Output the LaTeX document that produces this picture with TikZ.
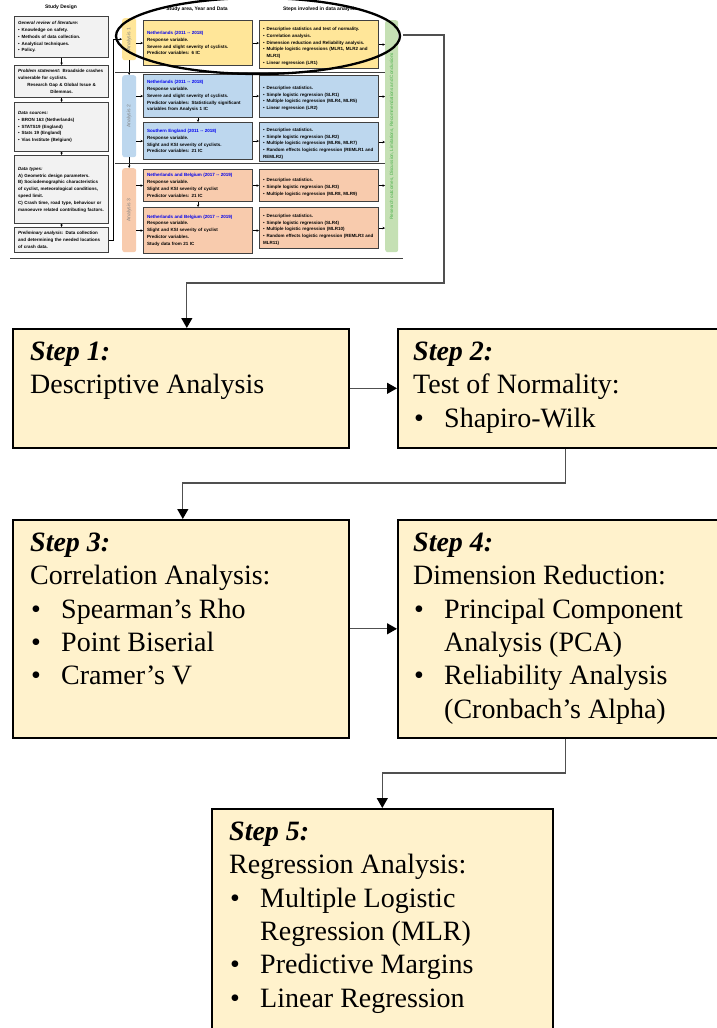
\documentclass[tikz,border=0pt]{standalone}
\usepackage{fontspec}
\setmainfont{Liberation Serif}
\newfontfamily\thumbfont{Liberation Sans}
\usetikzlibrary{arrows.meta}
\definecolor{stepfill}{HTML}{FFF2CC}
\definecolor{connc}{HTML}{505050}
\definecolor{ylw}{HTML}{FFE699}
\definecolor{blu}{HTML}{BDD7EE}
\definecolor{org}{HTML}{F8CBAD}
\definecolor{grn}{HTML}{C5E0B4}
\definecolor{gry}{HTML}{F2F2F2}
\definecolor{bdr}{HTML}{404040}
\definecolor{ttl}{HTML}{0000EE}
\definecolor{labc}{HTML}{808080}
\newcommand\tfont{\thumbfont\bfseries\fontsize{4.5}{6.8}\selectfont}
\newcommand\stepbullet[1]{\makebox[31pt][l]{\hspace{1pt}•}#1}
\newcommand\thumbitem[1]{\par\hangindent=3.5pt\hangafter=1\noindent\makebox[3.5pt][l]{•}#1}
\newcommand\ttitle[1]{{\color{ttl}#1}}
\begin{document}
\begin{tikzpicture}[x=1pt,y=-1pt,
  stepbox/.style={draw=black,line width=1.6pt,fill=stepfill,anchor=north west,inner sep=0pt},
  steptext/.style={anchor=north west,inner sep=0pt,align=left,font=\fontsize{28}{33.4}\selectfont},
  conn/.style={draw=connc,line width=1.3pt,-{Triangle[length=10pt,width=11pt,color=black,fill=black]}},
  tbox/.style={draw=bdr,line width=1.1pt,anchor=north west,inner xsep=3pt,inner ysep=1pt,align=left,font=\tfont},
  lab/.style={anchor=north west,rounded corners=2.5pt,minimum width=14pt,inner sep=0pt},
  labtext/.style={rotate=90,font=\thumbfont\fontsize{5}{6}\selectfont,text=labc,inner sep=0pt},
  tarr/.style={draw=black,line width=0.5pt,-{Stealth[length=2.5pt,width=2.5pt]}},
  sepline/.style={draw=bdr,line width=0.9pt},
  hdr/.style={font=\thumbfont\bfseries\fontsize{5}{6}\selectfont,inner sep=0pt}
]
\useasboundingbox (0,0) rectangle (717,1028);
\fill[white] (0,0) rectangle (717,1028);

% ---------- thumbnail ----------
\node[hdr] (h1) at (61,7) {Study Design};
\node[hdr] (h2) at (197,9) {Study area, Year and Data};
\node[hdr] (h3) at (320,9) {Steps involved in data analysis};

\node[tbox,fill=gry,minimum width=94pt,minimum height=41pt,text width=87pt] (b1) at (14,16)
 {\textit{General review of literature:}\thumbitem{Knowledge on safety.}\thumbitem{Methods of data collection.}\thumbitem{Analytical techniques.}\thumbitem{Policy.}};
\node[tbox,fill=gry,minimum width=94pt,minimum height=32pt,text width=87pt] (b2) at (14,65)
 {\textit{Problem statement:} Broadside crashes vulnerable for cyclists.\par\centering Research Gap \& Global Issue \& Dilemmas.\par};
\node[tbox,fill=gry,minimum width=94pt,minimum height=49pt,text width=87pt] (b3) at (14,102)
 {\textit{Data sources:}\thumbitem{BRON 163 (Netherlands)}\thumbitem{STATS19 (England)}\thumbitem{Stats 19 (England)}\thumbitem{Vias Institute (Belgium)}};
\node[tbox,fill=gry,minimum width=94pt,minimum height=68pt,text width=87pt] (b4) at (14,155)
 {\textit{Data types:}\\A) Geometric design parameters.\\B) Sociodemographic characteristics of cyclist, meteorological conditions, speed limit.\\C) Crash time, road type, behaviour or manoeuvre related contributing factors.};
\node[tbox,fill=gry,minimum width=94pt,minimum height=25pt,text width=87pt] (b5) at (14,227)
 {\textit{Preliminary analysis:} Data collection and determining the needed locations of crash data.};
\draw[tarr] (b1.south) -- (b2.north);
\draw[tarr] (b2.south) -- (b3.north);
\draw[tarr] (b3.south) -- (b4.north);
\draw[tarr] (b4.south) -- (b5.north);

% analysis labels
\node[lab,fill=ylw,minimum height=42pt] (a1) at (122,18) {};
\node[labtext] (a1t) at (a1.center) {Analysis 1};
\node[lab,fill=blu,minimum height=82pt] (a2) at (122,75) {};
\node[labtext] (a2t) at (a2.center) {Analysis 2};
\node[lab,fill=org,minimum height=84pt] (a3) at (122,168) {};
\node[labtext] (a3t) at (a3.center) {Analysis 3};
\node[lab,fill=grn,minimum width=13pt,minimum height=232pt] (g) at (385,20) {};
\node[labtext,font=\thumbfont\fontsize{4.6}{5}\selectfont,text=green!40!gray] (gt) at (g.center) {Research outcomes, Discussion, Limitations, Recommendations and Conclusions};

\coordinate (lc) at (113,240);
\draw[tarr] (b5.east |- lc) -- (lc) |- (a1.west);
\draw[tarr] (a1.south) -- (a2.north);
\draw[tarr] (a2.south) -- (a3.north);

% middle boxes
\node[tbox,fill=ylw,minimum width=109pt,minimum height=45pt,text width=102pt] (m1) at (143,20)
 {\ttitle{Netherlands (2011 -- 2018)}\\Response variable.\\Severe and slight severity of cyclists.\\Predictor variables: 6 IC};
\node[tbox,fill=blu,minimum width=109pt,minimum height=43pt,text width=102pt] (m2a) at (143,74)
 {\ttitle{Netherlands (2011 -- 2018)}\\Response variable.\\Severe and slight severity of cyclists.\\Predictor variables: Statistically significant variables from Analysis 1 IC};
\node[tbox,fill=blu,minimum width=109pt,minimum height=37pt,text width=102pt] (m2b) at (143,122)
 {\ttitle{Southern England (2011 -- 2018)}\\Response variable.\\Slight and KSI severity of cyclists.\\Predictor variables: 21 IC};
\node[tbox,fill=org,minimum width=109pt,minimum height=32pt,text width=102pt] (m3a) at (143,169)
 {\ttitle{Netherlands and Belgium (2017 -- 2019)}\\Response variable.\\Slight and KSI severity of cyclist\\Predictor variables: 21 IC};
\node[tbox,fill=org,minimum width=109pt,minimum height=46pt,text width=102pt] (m3b) at (143,207)
 {\ttitle{Netherlands and Belgium (2017 -- 2019)}\\Response variable.\\Slight and KSI severity of cyclist\\Predictor variables.\\Study data from 21 IC};

% right boxes
\node[tbox,fill=ylw,minimum width=119pt,minimum height=48pt,text width=112pt] (r1) at (259,20)
 {\thumbitem{Descriptive statistics and test of normality.}\thumbitem{Correlation analysis.}\thumbitem{Dimension reduction and Reliability analysis.}\thumbitem{Multiple logistic regressions (MLR1, MLR2 and MLR3)}\thumbitem{Linear regression (LR1)}};
\node[tbox,fill=blu,minimum width=119pt,minimum height=42pt,text width=112pt] (r2) at (259,75)
 {\thumbitem{Descriptive statistics.}\thumbitem{Simple logistic regression (SLR1)}\thumbitem{Multiple logistic regression (MLR4, MLR5)}\thumbitem{Linear regression (LR2)}};
\node[tbox,fill=blu,minimum width=119pt,minimum height=39pt,text width=112pt] (r3) at (259,122)
 {\thumbitem{Descriptive statistics.}\thumbitem{Simple logistic regression (SLR2)}\thumbitem{Multiple logistic regression (MLR6, MLR7)}\thumbitem{Random effects logistic regression (REMLR1 and REMLR2)}};
\node[tbox,fill=org,minimum width=119pt,minimum height=32pt,text width=112pt] (r4) at (259,169)
 {\thumbitem{Descriptive statistics.}\thumbitem{Simple logistic regression (SLR3)}\thumbitem{Multiple logistic regression (MLR8, MLR9)}};
\node[tbox,fill=org,minimum width=119pt,minimum height=41pt,text width=112pt] (r5) at (259,207)
 {\thumbitem{Descriptive statistics.}\thumbitem{Simple logistic regression (SLR4)}\thumbitem{Multiple logistic regression (MLR10)}\thumbitem{Random effects logistic regression (REMLR3 and MLR11)}};

% thumbnail arrows
\draw[tarr] (a1.east |- m1.west) -- (m1.west);
\draw[tarr] (a2.east |- m2a.west) -- (m2a.west);
\draw[tarr] (a2.east |- m2b.west) -- (m2b.west);
\draw[tarr] (a3.east |- m3a.west) -- (m3a.west);
\draw[tarr] (a3.east |- m3b.west) -- (m3b.west);
\draw[tarr] (m2a.south) -- (m2b.north);
\draw[tarr] (m3a.south) -- (m3b.north);
\draw[tarr] (m1.east) -- (m1.east -| r1.west);
\draw[tarr] (m2a.east) -- (m2a.east -| r2.west);
\draw[tarr] (m2b.east) -- (m2b.east -| r3.west);
\draw[tarr] (m3a.east) -- (m3a.east -| r4.west);
\draw[tarr] (m3b.east) -- (m3b.east -| r5.west);
\draw[tarr] (r1.east) -- (r1.east -| g.west);
\draw[tarr] (r2.east) -- (r2.east -| g.west);
\draw[tarr] (r3.east) -- (r3.east -| g.west);
\draw[tarr] (r4.east) -- (r4.east -| g.west);
\draw[tarr] (r5.east) -- (r5.east -| g.west);

% separators
\draw[sepline] (115,72) -- (385,72);
\draw[sepline] (115,163) -- (385,163);
\draw[sepline] (10,258) -- (403,258);

% highlight ellipse
\draw[line width=2.3pt] (258,36) ellipse [x radius=142pt, y radius=38pt];

% ---------- step boxes ----------
\node[stepbox,minimum width=336pt,minimum height=119pt] (s1) at (12,328) {};
\node[stepbox,minimum width=322pt,minimum height=119pt] (s2) at (397,328) {};
\node[stepbox,minimum width=336pt,minimum height=218pt] (s3) at (12,519) {};
\node[stepbox,minimum width=322pt,minimum height=218pt] (s4) at (397,519) {};
\node[stepbox,minimum width=341pt,minimum height=240pt] (s5) at (211,808) {};

\node[steptext] (t1) at ([xshift=18pt,yshift=-13.5pt]s1.north west)
 {\textbf{\textit{Step 1:}}\\Descriptive Analysis};
\node[steptext] (t2) at ([xshift=16pt,yshift=-13.5pt]s2.north west)
 {\textbf{\textit{Step 2:}}\\Test of Normality:\\\stepbullet{Shapiro-Wilk}};
\node[steptext] (t3) at ([xshift=18pt,yshift=-13.5pt]s3.north west)
 {\textbf{\textit{Step 3:}}\\Correlation Analysis:\\\stepbullet{Spearman’s Rho}\\\stepbullet{Point Biserial}\\\stepbullet{Cramer’s V}};
\node[steptext] (t4) at ([xshift=16pt,yshift=-13.5pt]s4.north west)
 {\textbf{\textit{Step 4:}}\\Dimension Reduction:\\\stepbullet{Principal Component}\\\hspace*{31pt}Analysis (PCA)\\\stepbullet{Reliability Analysis}\\\hspace*{31pt}(Cronbach’s Alpha)};
\node[steptext] (t5) at ([xshift=18pt,yshift=-13.5pt]s5.north west)
 {\textbf{\textit{Step 5:}}\\Regression Analysis:\\\stepbullet{Multiple Logistic}\\\hspace*{31pt}Regression (MLR)\\\stepbullet{Predictive Margins}\\\stepbullet{Linear Regression}};

% ---------- connectors ----------
\coordinate (g0) at (403,35);
\coordinate (c01) at (444,283);
\draw[conn] (g0) -| (c01) -| ([xshift=6pt]s1.north);
\draw[conn] (s1.east) -- (s2.west);
\coordinate (c23) at (300,483);
\draw[conn] ([xshift=7pt]s2.south) |- (c23) -| ([xshift=2pt]s3.north);
\draw[conn] (s3.east) -- (s4.west);
\coordinate (c45) at (450,773);
\draw[conn] ([xshift=7pt]s4.south) |- (c45) -| (s5.north);
\end{tikzpicture}
\end{document}
